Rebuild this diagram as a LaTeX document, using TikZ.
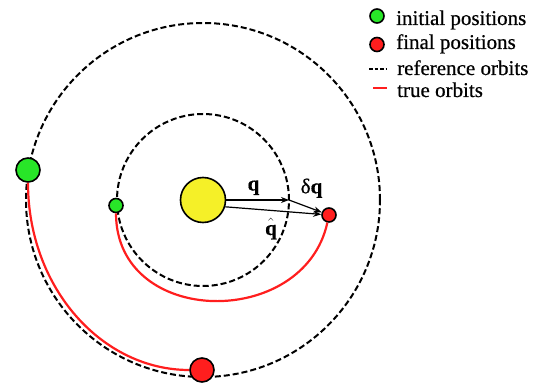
\documentclass[tikz,border=0pt]{standalone}
\usepackage{fontspec}
\setmainfont{Liberation Serif}[FakeBold=0.6]
\usetikzlibrary{arrows.meta}
\definecolor{verde}{RGB}{40,230,40}
\definecolor{rojo}{RGB}{255,30,30}
\definecolor{amarillo}{RGB}{245,240,40}
\tikzset{
  cuerpo/.style={circle,draw,line width=1.6pt,inner sep=0pt},
  orbref/.style={line width=2pt,dash pattern=on 6pt off 3pt},
  orbreal/.style={rojo,line width=2.2pt},
  vec/.style={line width=1.2pt,-{Stealth[length=8pt,width=6pt]}},
  etiq/.style={font=\fontsize{21}{24}\selectfont,inner sep=0pt}
}
\begin{document}
\begin{tikzpicture}[x=1pt,y=1pt]
    \useasboundingbox (0,0) rectangle (539,386);
    % Sol y orbitas de referencia
    \node[cuerpo,fill=amarillo,minimum size=45pt] (sol) at (203,186) {};
    \draw[orbref] (sol.center) circle[radius=86];
    \draw[orbref] (sol.center) circle[radius=177];
    \coordinate (q0) at (289,186);
    % Posiciones iniciales y finales
    \node[cuerpo,fill=verde,minimum size=14pt] (ini1) at (116,180.5) {};
    \node[cuerpo,fill=verde,minimum size=24pt] (ini2) at (28,216) {};
    \node[cuerpo,fill=rojo,minimum size=14pt] (fin1) at (329,171) {};
    \node[cuerpo,fill=rojo,minimum size=24pt] (fin2) at (202,16) {};
    % Orbitas reales
    \draw[orbreal] (ini1) .. controls +(0,-122) and +(-25,-115) .. (fin1);
    \draw[orbreal] (ini2) .. controls +(0,-118) and +(-100,0) .. (fin2);
    % Vectores
    \draw[vec] (sol.east) -- (q0);
    \draw[vec] (q0) -- (fin1);
    \draw[vec] (sol.-17) -- (fin1);
    \node[etiq,anchor=base] (lq) at (253.5,195.5) {\textbf{q}};
    \node[etiq,anchor=base] (ldq) at (311.5,192.7) {δ\textbf{q}};
    \node[etiq,anchor=base] (lqh) at (271,151) {$\hat{\vphantom{\textbf{t}}\smash{\textbf{q}}}$};
    % Leyenda
    \node[cuerpo,fill=verde,minimum size=14pt] (lg1) at (377,370) {};
    \node[cuerpo,fill=rojo,minimum size=14pt] (lg2) at (377,341.5) {};
    \coordinate (lg3a) at (369,317);
    \coordinate (lg3b) at (387,317);
    \coordinate (lg4a) at (373,298);
    \coordinate (lg4b) at (387,298);
    \draw[line width=2pt,dash pattern=on 3.5pt off 2pt] (lg3a) -- (lg3b);
    \draw[orbreal] (lg4a) -- (lg4b);
    \node[etiq,anchor=base west] (t1) at (396,361) {initial positions};
    \node[etiq,anchor=base west] (t2) at (396,337) {final positions};
    \node[etiq,anchor=base west] (t3) at (397,311) {reference orbits};
    \node[etiq,anchor=base west] (t4) at (397,289) {true orbits};
\end{tikzpicture}
\end{document}
